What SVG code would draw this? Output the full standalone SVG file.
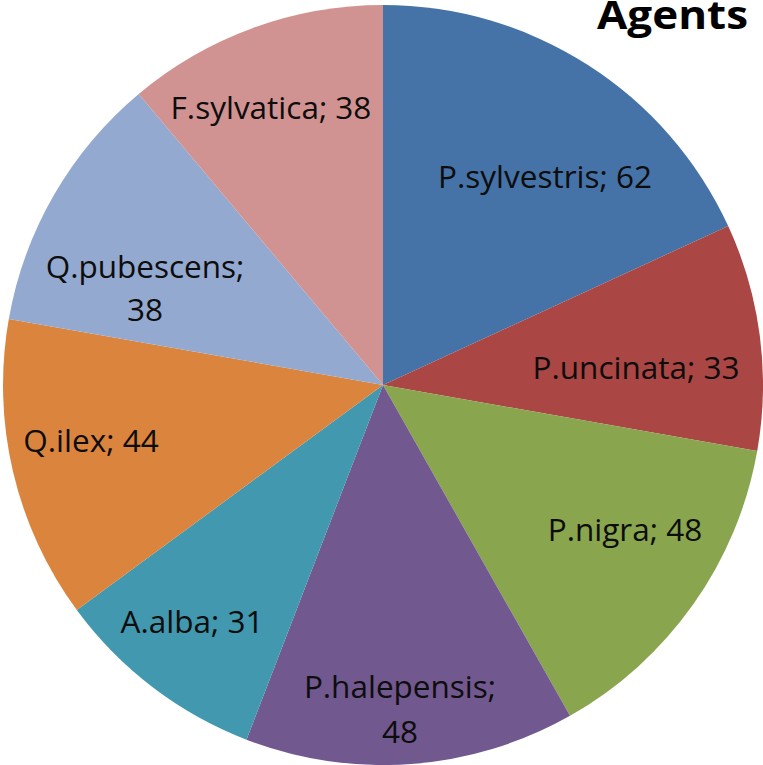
<svg xmlns="http://www.w3.org/2000/svg" width="763" height="765" viewBox="0 0 763 765">
<style>
.lbl{font-family:"Open Sans","Liberation Sans",sans-serif;font-size:31.5px;fill:#0d0d0d;text-anchor:middle}
.ttl{font-family:"Open Sans","Liberation Sans",sans-serif;font-size:39px;font-weight:bold;fill:#000}
</style>
<rect width="763" height="765" fill="#fff"/>
<text class="ttl" x="597" y="29" textLength="151" lengthAdjust="spacingAndGlyphs">Agents</text>
<g id="slices">
<g id="p-sylvestris"><path d="M383,385 L383,5 A380,380 0 0 1 728.2,226 Z" fill="#4572A7"/><text class="lbl" x="545" y="188">P.sylvestris; 62</text></g>
<g id="p-uncinata"><path d="M383,385 L728.2,226 A380,380 0 0 1 757.2,451 Z" fill="#AA4643"/><text class="lbl" x="636" y="379">P.uncinata; 33</text></g>
<g id="p-nigra"><path d="M383,385 L757.2,451 A380,380 0 0 1 570,715.8 Z" fill="#89A54E"/><text class="lbl" x="625" y="541">P.nigra; 48</text></g>
<g id="p-halepensis"><path d="M383,385 L570,715.8 A380,380 0 0 1 246.5,739.7 Z" fill="#71588F"/><text class="lbl" x="400" y="698">P.halepensis;</text><text class="lbl" x="400" y="743">48</text></g>
<g id="a-alba"><path d="M383,385 L246.5,739.7 A380,380 0 0 1 76.8,610.1 Z" fill="#4198AF"/><text class="lbl" x="192" y="633">A.alba; 31</text></g>
<g id="q-ilex"><path d="M383,385 L76.8,610.1 A380,380 0 0 1 8.8,319 Z" fill="#DB843D"/><text class="lbl" x="91" y="452">Q.ilex; 44</text></g>
<g id="q-pubescens"><path d="M383,385 L8.8,319 A380,380 0 0 1 138.7,93.9 Z" fill="#93A9CF"/><text class="lbl" x="145" y="278">Q.pubescens;</text><text class="lbl" x="145" y="321">38</text></g>
<g id="f-sylvatica"><path d="M383,385 L138.7,93.9 A380,380 0 0 1 383,5 Z" fill="#D19392"/><text class="lbl" x="271" y="119">F.sylvatica; 38</text></g>
</g>
<g id="connectors"/>
</svg>
